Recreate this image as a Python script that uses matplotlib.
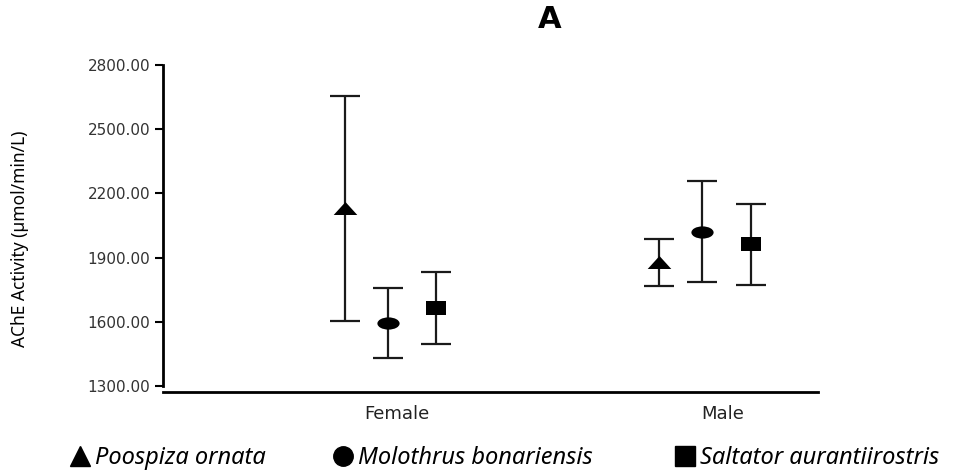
import numpy as np
import matplotlib
matplotlib.use("Agg")
import matplotlib.pyplot as plt
from matplotlib.path import Path
from matplotlib.lines import Line2D
from matplotlib.transforms import Affine2D

groups = ["Female", "Male"]
species = ["Poospiza ornata", "Molothrus bonariensis", "Saltator aurantiirostris"]
poospiza_mean = [2130, 1878]
poospiza_err = [525, 110]
molothrus_mean = [1595, 2020]
molothrus_err = [162, 236]
saltator_mean = [1665, 1962]
saltator_err = [170, 190]
yticks = [1300, 1600, 1900, 2200, 2500, 2800]

# flattened markers (the original figure is stretched sideways)
flat = Affine2D().scale(1.0, 0.55)
tri = Path([(-1, -0.55), (1, -0.55), (0, 0.55), (-1, -0.55)], closed=True)
circ = Path.unit_circle().transformed(flat)
sq = Path([(-0.85, -0.55), (0.85, -0.55), (0.85, 0.55), (-0.85, 0.55), (-0.85, -0.55)], closed=True)

fig = plt.figure(figsize=(9.77, 4.73), dpi=100)
ax = fig.add_axes([0.1668, 0.1712, 0.6705, 0.6914])

x = np.arange(len(groups))
offsets = [-0.145, -0.01, 0.145]
means = [poospiza_mean, molothrus_mean, saltator_mean]
errs = [poospiza_err, molothrus_err, saltator_err]
markers = [tri, circ, sq]
sizes = [17, 16, 15]
for m, e, mk, off, s in zip(means, errs, markers, offsets, sizes):
    ax.errorbar(x + off, m, yerr=e, fmt="none", ecolor="#1a1a1a",
                elinewidth=1.6, capsize=11, capthick=1.6)
    ax.plot(x + off, m, linestyle="none", marker=mk, markersize=s,
            color="black", markeredgewidth=0)

ax.set_xlim(-0.726, 1.36)
ax.set_ylim(1272, 2800)
ax.set_yticks(yticks)
ax.set_yticklabels([f"{v:.2f}" for v in yticks], fontsize=11, color="#333333")
ax.set_xticks(x + np.array([0.02, 0.055]))
ax.set_xticklabels(groups, fontsize=13, color="#222222")
ax.tick_params(axis="x", length=0, pad=9)
ax.tick_params(axis="y", length=6, width=1.5, pad=3)
for sp in ["top", "right"]:
    ax.spines[sp].set_visible(False)
ax.spines["left"].set_bounds(1300, 2800)
ax.spines["left"].set_linewidth(2)
ax.spines["bottom"].set_linewidth(2)

ax.set_ylabel("AChE Activity (µmol/min/L)", fontsize=12.5, family="Noto Sans")
ax.yaxis.set_label_coords(-0.205, 0.47)

fig.text(550 / 977, 1 - 20 / 473, "A", fontsize=22, fontweight="bold",
         ha="center", va="center")

# legend entries placed one by one along the bottom
leg_x = [68 / 977, 331 / 977, 673 / 977]
for mk, name, lx in zip(["^", "o", "s"], species, leg_x):
    h = Line2D([], [], linestyle="none", marker=mk, color="black", markersize=14)
    fig.legend([h], [name], loc="center left", bbox_to_anchor=(lx, 1 - 458 / 473),
               frameon=False, handletextpad=0.15, borderpad=0, borderaxespad=0,
               handlelength=1.0,
               prop={"family": "Noto Sans", "style": "italic", "size": 17})

fig.savefig("out.png", dpi=100)
